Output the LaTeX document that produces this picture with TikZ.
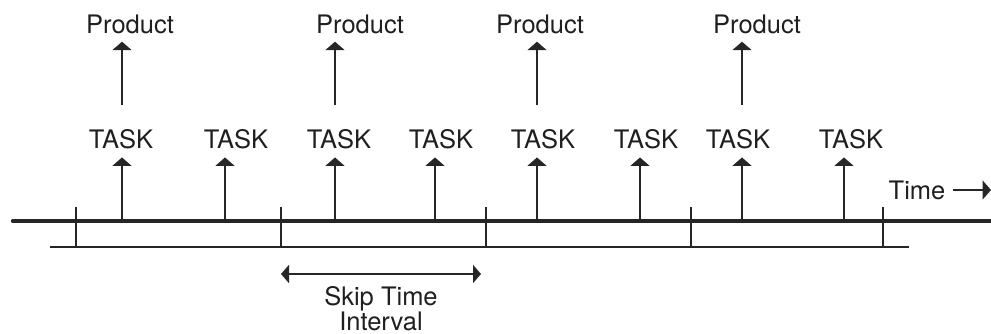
\documentclass[tikz,border=0pt]{standalone}
\usepackage{fontspec}
\setmainfont{TeX Gyre Heros}
\usetikzlibrary{arrows.meta,positioning}

\begin{document}
\begin{tikzpicture}[x=1pt,y=-1pt,
    lbl/.style={inner sep=0pt,text=black!88,font=\fontsize{25.5}{23}\selectfont},
    tline/.style={line width=2.2pt,draw=black!85},
    upar/.style={line width=2pt,draw=black!85,-{Triangle[width=19pt,length=8.5pt]}}]
  \useasboundingbox (0,0) rectangle (991,334);
  % time axis
  \draw[line width=4.4pt,draw=black!85,line cap=round]
    (13,221) coordinate (ax0) -- (991,221) coordinate (ax1);
  \draw[tline] (50,247) coordinate (bs0) -- (909,247) coordinate (bs1);
  \foreach \x [count=\i] in {76,281,486,691,883}{
    \draw[tline] (\x,207) coordinate (k\i) -- (\x,247);
  }
  % tasks
  \foreach \x/\lx [count=\i] in {122/121,225/236,335/339,435/441,537/543,640/646,742/738,844/851}{
    \node[lbl] (t\i) at (\lx,139) {TASK};
    \coordinate (b\i) at (\x,221);
    \draw[upar,shorten >=8.5pt] (b\i) -- (b\i |- t\i.south);
  }
  % products
  \foreach \j/\px in {1/130,3/360,5/540,7/757}{
    \node[lbl] (p\j) at (\px,24) {Product};
    \draw[upar,shorten <=24pt,shorten >=8pt] (b\j |- t\j.north) -- (b\j |- p\j.south);
  }
  % time label
  \node[lbl] (time) at (917,190) {Time};
  \coordinate (tip) at (991,190);
  \draw[upar,shorten <=7pt] (time.east) -- (tip);
  % skip interval
  \coordinate (s0) at (281,274);
  \coordinate (s1) at (481,274);
  \draw[line width=2pt,draw=black!85,
    {Triangle[width=18pt,length=8pt]}-{Triangle[width=18pt,length=8pt]}] (s0) -- (s1);
  \node[lbl,align=center,anchor=north] (skip) at (381,286) {Skip Time\\Interval};
\end{tikzpicture}
\end{document}
